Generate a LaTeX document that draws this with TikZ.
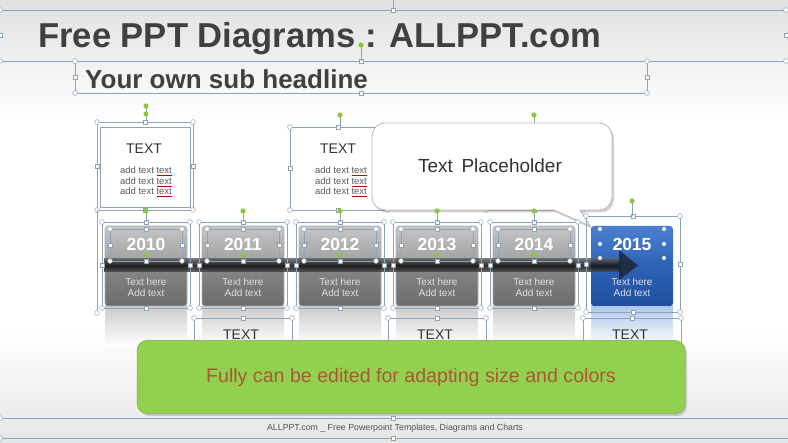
\documentclass[tikz,border=0pt]{standalone}
\usepackage{fontspec}
\setmainfont{Liberation Sans}
\usetikzlibrary{shadows,calc}
\definecolor{ttl}{HTML}{404040}
\definecolor{hcol}{HTML}{8FA2B8}
\definecolor{hgreen}{HTML}{8DC63F}
\definecolor{hdrtop}{HTML}{C6C6C6}
\definecolor{hdrbot}{HTML}{9E9E9E}
\definecolor{lowtop}{HTML}{8A8A8A}
\definecolor{lowbot}{HTML}{6C6C6C}
\definecolor{bluetop}{HTML}{4B80D0}
\definecolor{bluemid}{HTML}{2F65B8}
\definecolor{bluebot}{HTML}{1F4F9E}
\definecolor{gbox}{HTML}{92D050}
\definecolor{gtext}{HTML}{A85A32}
\definecolor{txt}{HTML}{333333}
\newcommand{\fsz}[1]{\fontsize{#1}{#1}\selectfont}
\newcommand{\selbox}[4]{%
  \draw[hline] (#1,#2) rectangle (#3,#4);
  \foreach \hx/\hy in {#1/#2,#3/#2,#1/#4,#3/#4}{\draw[hcirc] (\hx,\hy) circle (2.4);}
  \draw[hsq] ({(#1+#3)/2-1.8},{#2-1.8}) rectangle +(3.6,3.6);
  \draw[hsq] ({(#1+#3)/2-1.8},{#4-1.8}) rectangle +(3.6,3.6);
  \draw[hsq] ({#1-1.8},{(#2+#4)/2-1.8}) rectangle +(3.6,3.6);
  \draw[hsq] ({#3-1.8},{(#2+#4)/2-1.8}) rectangle +(3.6,3.6);
}
\newcommand{\rothandle}[3]{%
  \draw[hline] (#1,#2) -- (#1,#3);
  \fill[hgreen] (#1,#2) circle (2.6);
}
\tikzset{
  hline/.style={draw=hcol,line width=0.6pt},
  hcirc/.style={draw=hcol,fill=white,line width=0.5pt},
  hsq/.style={draw=hcol,fill=white,line width=0.5pt},
  yeartxt/.style={text=white,font=\bfseries\fsz{17.5}},
  celltxt/.style={text=white!88!black,font=\fsz{10},align=center,inner sep=0pt},
  boxttl/.style={text=txt,font=\fsz{14}},
  addtxt/.style={text=txt!80!white,font=\fsz{9.5},align=center,inner sep=0pt},
}
\begin{document}
\begin{tikzpicture}[x=1pt,y=-1pt]
\useasboundingbox (0,0) rectangle (788,443);
% background
\shade[top color=gray!24,bottom color=white] (0,0) rectangle (788,118);
\fill[white] (0,118) rectangle (788,330);
\shade[top color=white,bottom color=gray!20] (0,330) rectangle (788,443);

% title frame
\draw[hline] (0,10) -- (788,10);
\draw[hline] (0,61) -- (788,61);
\draw[hline] (393,0) -- (393,10);
\foreach \hy in {10,61}{\draw[hcirc] (0,\hy) circle (2.4); \draw[hcirc] (786,\hy) circle (2.4);}
\draw[hsq] (391.2,8.2) rectangle +(3.6,3.6);
\draw[hsq] (-1.8,33.5) rectangle +(3.6,3.6);
\draw[hsq] (784.2,33.5) rectangle +(3.6,3.6);
\node[anchor=base west,inner sep=0pt,text=ttl,font=\bfseries\fsz{34.6}] (title) at (38,48) {Free PPT Diagrams : ALLPPT.com};

% sub headline
\selbox{75}{61}{647}{93}
\rothandle{361}{45}{61}
\node[anchor=base west,inner sep=0pt,text=ttl,font=\bfseries\fsz{26}] (sub) at (85,89) {Your own sub headline};

% top text boxes
\rothandle{146}{106}{122}
\fill[hgreen] (146,114) circle (2.6);
\selbox{97}{122}{193}{210}
\draw[hline] (100,127) rectangle (190,207);
\node[boxttl] (t1) at (144,149) {TEXT};
\node[addtxt] (a1) at (146,182) {add text {\color{red!75!black}\underline{\textcolor{txt!80!white}{text}}}\\[1pt]add text {\color{red!75!black}\underline{\textcolor{txt!80!white}{text}}}\\[1pt]add text {\color{red!75!black}\underline{\textcolor{txt!80!white}{text}}}};

\rothandle{340}{115}{127}
\selbox{290}{127}{387}{210}
\node[boxttl] (t2) at (338,149) {TEXT};
\node[addtxt] (a2) at (341,182) {add text {\color{red!75!black}\underline{\textcolor{txt!80!white}{text}}}\\[1pt]add text {\color{red!75!black}\underline{\textcolor{txt!80!white}{text}}}\\[1pt]add text {\color{red!75!black}\underline{\textcolor{txt!80!white}{text}}}};

\rothandle{534}{115}{127}
\selbox{486}{127}{583}{210}

% callout
\path[draw=gray!55,line width=0.8pt,fill=white,drop shadow={shadow xshift=2pt,shadow yshift=-2.5pt,opacity=.35},rounded corners=13]
  (372,123) -- (612,123) -- (612,210) [sharp corners] -- (580,210) -- (590,226) -- (554,210) [rounded corners=13] -- (372,210) -- cycle;
\node[text=txt,font=\fsz{19}] (ph) at (490,166) {Text\hspace{0.45em}Placeholder};

% cards
\foreach \cx/\yr [count=\i] in {146/2010,243/2011,340/2012,437/2013,534/2014}{
  \shade[top color=gray!40,bottom color=white] (\cx-41,306) rectangle (\cx+41,346);
  \shade[top color=hdrtop,bottom color=hdrbot,rounded corners=3] (\cx-41,226) rectangle (\cx+41,264);
  \shade[top color=lowtop,bottom color=lowbot,rounded corners=3] (\cx-41,260) rectangle (\cx+41,306);
  \draw[gray!60,line width=0.6pt,rounded corners=3] (\cx-41,226) rectangle (\cx+41,306);
  \node[yeartxt] (y\i) at (\cx,244) {\yr};
  \node[celltxt] (c\i) at (\cx,287) {Text here\\[1pt]Add text};
}
% blue card
\shade[top color=bluetop!45,bottom color=white] (591,306) rectangle (673,346);
\shade[top color=bluetop,bottom color=bluemid,rounded corners=3] (591,226) rectangle (673,264);
\shade[top color=bluemid,bottom color=bluebot,rounded corners=3] (591,260) rectangle (673,306);
\node[yeartxt] (y6) at (632,244) {2015};
\node[celltxt] (c6) at (632,287) {Text here\\[1pt]Add text};

% arrow
\shade[top color=black!65,bottom color=black!70,middle color=black!95,opacity=.85] (104,259) rectangle (620,272);
\fill[black!90,opacity=.7] (619,250) -- (638,265.5) -- (619,280) -- cycle;

% card handles
\foreach \cx in {146,243,340,437,534}{
  \selbox{\cx-44}{222}{\cx+44}{308}
  \selbox{\cx-36}{229}{\cx+36}{261}
  \rothandle{\cx}{211}{222}
  \fill[hgreen] (\cx,255) circle (2.4);
}
\selbox{586}{216}{680}{312}
\rothandle{632}{201}{216}
\foreach \hx/\hy in {600/229,664/229,600/244,664/244,600/258,664/258,620/242}{\fill[white] (\hx,\hy) circle (2);}
\draw[hline] (97,210) -- (97,313);
\draw[hcirc] (97,313) circle (2.4);

% bottom text boxes
\foreach \cx [count=\i] in {243,437,632}{
  \draw[hline] (\cx-49,346) -- (\cx-49,318) -- (\cx+49,318) -- (\cx+49,346);
  \draw[hcirc] (\cx-49,318) circle (2.4);
  \draw[hcirc] (\cx+49,318) circle (2.4);
  \draw[hsq] (\cx-1.8,316.2) rectangle +(3.6,3.6);
  \node[boxttl] (b\i) at (\cx-2,335) {TEXT};
}

% green box
\node[draw=gbox!85!black,line width=0.5pt,fill=gbox,rounded corners=10,minimum width=548pt,minimum height=73pt,
  drop shadow={shadow xshift=2pt,shadow yshift=-2.5pt,opacity=.35},
  text=gtext,font=\fsz{19.6}] (gb) at (411,377) {Fully can be edited for adapting size and colors};

% footer
\draw[hline] (0,418) -- (788,418);
\draw[hline] (0,438) -- (788,438);
\draw[hcirc] (0,418) circle (2.4);
\draw[hcirc] (0,438) circle (2.4);
\draw[hsq] (391.2,416.2) rectangle +(3.6,3.6);
\draw[hsq] (391.2,436.2) rectangle +(3.6,3.6);
\node[text=txt!85!white,font=\fsz{8.8}] (ft) at (395,428) {ALLPPT.com \_ Free Powerpoint Templates, Diagrams and Charts};
\end{tikzpicture}
\end{document}
